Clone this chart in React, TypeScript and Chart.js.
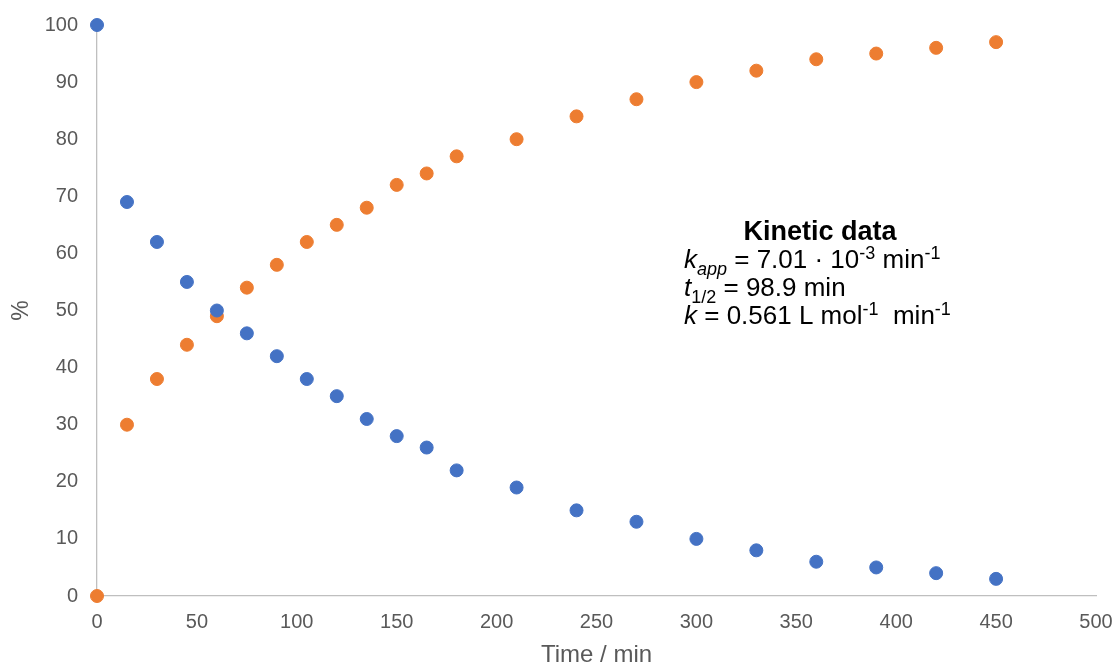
import React, { useEffect, useRef } from "react";
import { Chart, registerables } from "chart.js";

Chart.register(...registerables);

const timeMin = [0, 15, 30, 45, 60, 75, 90, 105, 120, 135, 150, 165, 180, 210, 240, 270, 300, 330, 360, 390, 420, 450];
const reactantPct = [100, 69, 62, 55, 50, 46, 42, 38, 35, 31, 28, 26, 22, 19, 15, 13, 10, 8, 6, 5, 4, 3];
const productPct = [0, 30, 38, 44, 49, 54, 58, 62, 65, 68, 72, 74, 77, 80, 84, 87, 90, 92, 94, 95, 96, 97];

const xTitle = "Time / min";
const yTitle = "%";
const boxTitle = "Kinetic data";
// segments: [text, italic, position]
type Seg = [string, boolean, "base" | "sub" | "sup"];
const boxLines: Seg[][] = [
  [["k", true, "base"], ["app", true, "sub"], [" = 7.01 · 10", false, "base"], ["-3", false, "sup"], [" min", false, "base"], ["-1", false, "sup"]],
  [["t", true, "base"], ["1/2", false, "sub"], [" = 98.9 min", false, "base"]],
  [["k", true, "base"], [" = 0.561 L mol", false, "base"], ["-1", false, "sup"], ["  min", false, "base"], ["-1", false, "sup"]],
];

const FONT = "'Liberation Sans', Arial, sans-serif";

const annotationPlugin = {
  id: "kineticBox",
  afterDraw(chart: any) {
    const ctx = chart.ctx as CanvasRenderingContext2D;
    ctx.save();
    ctx.fillStyle = "#000000";
    ctx.textBaseline = "alphabetic";
    ctx.font = `bold 27px ${FONT}`;
    ctx.textAlign = "center";
    ctx.fillText(boxTitle, 820, 240);
    ctx.textAlign = "left";
    const baselines = [268, 296, 324];
    const size = 26;
    boxLines.forEach((line, i) => {
      let x = 684;
      const by = baselines[i];
      line.forEach(([txt, it, pos]) => {
        const s = pos === "base" ? size : Math.round(size * 0.68);
        const dy = pos === "sub" ? size * 0.25 : pos === "sup" ? -size * 0.36 : 0;
        ctx.font = `${it ? "italic " : ""}${s}px ${FONT}`;
        ctx.fillText(txt, x, by + dy);
        x += ctx.measureText(txt).width;
      });
    });
    ctx.restore();
  },
};

export default function App() {
  const ref = useRef<HTMLCanvasElement | null>(null);
  useEffect(() => {
    document.body.style.margin = "0";
    const chart = new Chart(ref.current!, {
      type: "scatter",
      data: {
        datasets: [
          {
            label: "Reactant",
            data: timeMin.map((t, i) => ({ x: t, y: reactantPct[i] })),
            backgroundColor: "#4472C4",
            borderColor: "#4472C4",
            pointRadius: 6.5,
            clip: false as any,
          },
          {
            label: "Product",
            data: timeMin.map((t, i) => ({ x: t, y: productPct[i] })),
            backgroundColor: "#ED7D31",
            borderColor: "#ED7D31",
            pointRadius: 6.5,
            clip: false as any,
          },
        ],
      },
      options: {
        animation: false,
        responsive: true,
        maintainAspectRatio: false,
        layout: { padding: { top: 25, right: 20, left: 0, bottom: 0 } },
        plugins: { legend: { display: false }, tooltip: { enabled: false } },
        scales: {
          x: {
            type: "linear",
            min: 0,
            max: 500,
            grid: { display: false, drawTicks: false },
            border: { display: true, color: "#BFBFBF", width: 1.3 },
            ticks: { stepSize: 50, color: "#595959", font: { family: FONT, size: 20 }, padding: 14 },
            title: { display: true, text: xTitle, color: "#595959", font: { family: FONT, size: 24 }, padding: { top: 0, bottom: -4 } },
            afterFit(scale: any) {
              scale.height = 70;
              scale.paddingLeft = 0;
              scale.paddingRight = 0;
            },
          },
          y: {
            type: "linear",
            min: 0,
            max: 100,
            grid: { display: false, drawTicks: false },
            border: { display: true, color: "#BFBFBF", width: 1.3 },
            ticks: { stepSize: 10, color: "#595959", font: { family: FONT, size: 20 }, padding: 19 },
            title: { display: true, text: yTitle, color: "#595959", font: { family: FONT, size: 23 }, padding: { top: 8, bottom: 0 } },
            afterFit(scale: any) {
              scale.width = 97;
              scale.paddingTop = 0;
              scale.paddingBottom = 0;
            },
          },
        },
      },
      plugins: [annotationPlugin],
    });
    return () => chart.destroy();
  }, []);
  return (
    <div style={{ position: "absolute", left: 0, top: 0, width: 1116, height: 666 }}>
      <canvas ref={ref} />
    </div>
  );
}
